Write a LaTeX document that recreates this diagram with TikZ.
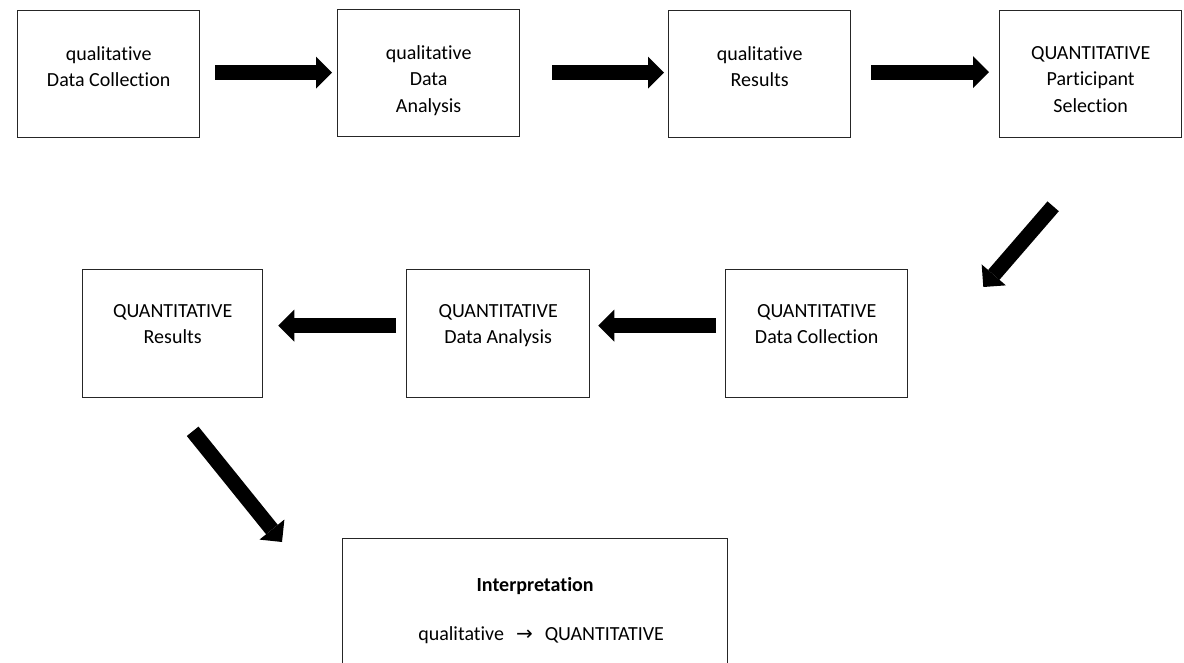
\documentclass[tikz,border=0pt]{standalone}
\usepackage{fontspec}
\setmainfont{Carlito}[Ligatures=NoCommon]
\newfontfamily\arrowfont{DejaVu Sans}
\usetikzlibrary{arrows.meta}
\begin{document}
\begin{tikzpicture}[x=1pt,y=-1pt,
  box/.style={draw=black!85, line width=1.3pt, minimum width=182pt, minimum height=127pt, anchor=north west, inner sep=0pt},
  txt/.style={align=center, anchor=north, inner sep=0pt, font=\fontsize{20}{26.5}\selectfont},
  bigarrow/.style={line width=15pt, -{Triangle[length=16pt,width=32pt,line width=0pt]}}]
\useasboundingbox (0,0) rectangle (1184,663);
\clip (0,0) rectangle (1184,663);
% row 1
\node[box] (b1) at (17,10) {};
\node[box] (b2) at (337,9) {};
\node[box] (b3) at (668,10) {};
\node[box] (b4) at (999,10) {};
% row 2
\node[box, minimum width=180pt, minimum height=128pt] (b5) at (82,269) {};
\node[box, minimum width=183pt, minimum height=128pt] (b6) at (406,269) {};
\node[box, minimum height=128pt] (b7) at (725,269) {};
% interpretation
\node[box, minimum width=385pt, minimum height=140pt] (b8) at (342,538) {};
% texts
\node[txt] (t1) at ([yshift=-36pt]b1.north) {qualitative\\Data Collection};
\node[txt] (t2) at ([yshift=-36pt]b2.north) {qualitative\\Data\\Analysis};
\node[txt] (t3) at ([yshift=-36pt]b3.north) {qualitative\\Results};
\node[txt] (t4) at ([yshift=-36pt]b4.north) {QUANTITATIVE\\Participant\\Selection};
\node[txt] (t5) at ([yshift=-35pt]b5.north) {QUANTITATIVE\\Results};
\node[txt] (t6) at ([yshift=-35pt]b6.north) {QUANTITATIVE\\Data Analysis};
\node[txt] (t7) at ([yshift=-35pt]b7.north) {QUANTITATIVE\\Data Collection};
\node[txt, font=\fontsize{20}{26.5}\selectfont\bfseries] (t8) at ([yshift=-39pt]b8.north) {Interpretation};
\node[txt] (t9) at ([xshift=6pt,yshift=-88pt]b8.north) {qualitative\hspace{12pt}{\arrowfont\fontsize{20}{20}\selectfont →}\hspace{12pt}QUANTITATIVE};
% arrows
\draw[bigarrow] ([xshift=15pt,yshift=1.5pt]b1.east) -- ([xshift=-5pt,yshift=0.5pt]b2.west);
\draw[bigarrow] ([xshift=32pt,yshift=0.5pt]b2.east) -- ([xshift=-4pt,yshift=1.5pt]b3.west);
\draw[bigarrow] ([xshift=20pt,yshift=2pt]b3.east) -- ([xshift=-10pt,yshift=2pt]b4.west);
\draw[bigarrow] ([xshift=-37.5pt,yshift=-68pt]b4.south) -- ([xshift=75pt,yshift=-18pt]b7.north east);
\draw[bigarrow] ([xshift=-9pt,yshift=8pt]b7.west) -- ([xshift=8pt,yshift=8pt]b6.east);
\draw[bigarrow] ([xshift=-10pt,yshift=8pt]b6.west) -- ([xshift=15pt,yshift=8pt]b5.east);
\draw[bigarrow] ([xshift=20pt,yshift=-33pt]b5.south) -- ([xshift=-60pt,yshift=-4pt]b8.north west);
\end{tikzpicture}
\end{document}
